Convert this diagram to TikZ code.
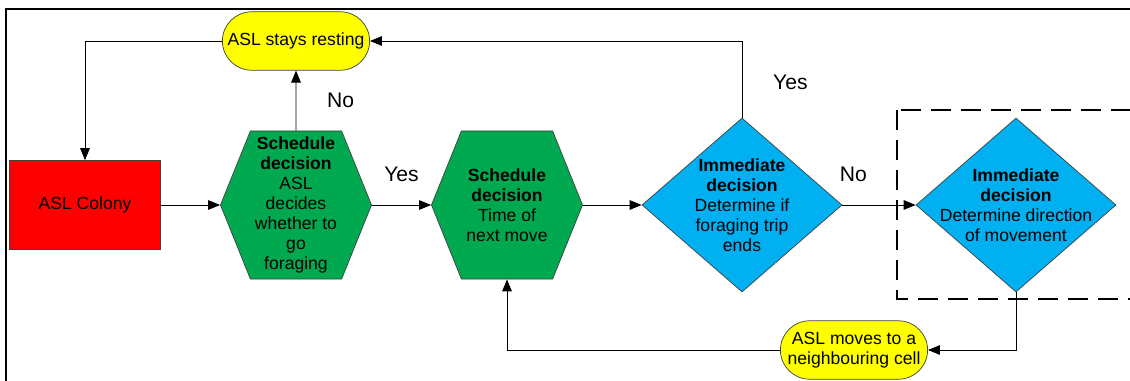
\documentclass[tikz,border=0pt]{standalone}
\usepackage{fontspec}
\setmainfont{Liberation Sans}
\usetikzlibrary{positioning,arrows.meta,shapes.geometric,shapes.misc,shapes.symbols}
\definecolor{aslred}{HTML}{FF0000}
\definecolor{aslgreen}{HTML}{00A950}
\definecolor{aslblue}{HTML}{00B0F0}
\definecolor{aslyellow}{HTML}{FFFF00}

\begin{document}
\begin{tikzpicture}[
    x = 0.025cm, y = -0.025cm,
    > = {Triangle[length=3mm, width=2.4mm]},
    line width = 0.6pt,
    every node/.style = {font=\fontsize{12.5}{14.3}\selectfont, align=center},
    colony/.style = {rectangle, draw=black!75, line width=0.5pt, fill=aslred,
        minimum width=3.775cm, minimum height=2.225cm},
    schedule/.style = {signal, signal to=east and west, signal pointer angle=136,
        draw=black!75, line width=0.5pt, fill=aslgreen, inner sep=0pt,
        minimum width=3.775cm, minimum height=3.7cm},
    immediate/.style = {diamond, draw=black!75, line width=0.5pt, fill=aslblue,
        inner sep=0pt, minimum width=5cm, minimum height=4.35cm},
    outcome/.style = {rounded rectangle, draw=black!75, line width=0.5pt,
        fill=aslyellow, inner sep=1pt, minimum width=3.75cm, minimum height=1.46cm},
    answer/.style = {font=\fontsize{15}{18}\selectfont},
    cell/.style = {line width=1pt, dash pattern=on 5mm off 2.5mm}
]
    \useasboundingbox (0,0) rectangle (1130,381);
    \draw[line width=1.2pt] (5,9) -- (1130,9);
    \draw[line width=1pt] (6,9) -- (6,381);
    \draw[cell] (897,110) rectangle (1140,299);

    \node[outcome] (rest) at (296,41) {ASL stays resting};
    \node[colony] (col) at (85,205) {ASL Colony};
    \node[schedule, label={center:{\textbf{Schedule}\\\textbf{decision}\\ASL\\decides\\whether to\\go\\foraging}}] (sd1) at (296,205) {};
    \node[schedule, label={center:{\textbf{Schedule}\\\textbf{decision}\\Time of\\next move}}] (sd2) at (507,205) {};
    \node[immediate, label={center:{\textbf{Immediate}\\\textbf{decision}\\Determine if\\foraging trip\\ends}}] (id1) at (742,205) {};
    \node[immediate, label={center:{\textbf{Immediate}\\\textbf{decision}\\Determine direction\\of movement}}] (id2) at (1016,205) {};
    \node[outcome] (move) at (854,350) {ASL moves to a\\neighbouring cell};

    \draw[->] (rest.west) -| (col.north);
    \draw[->] (col) -- (sd1);
    \draw[->] (sd1) -- node[answer, right=0.65cm] {No} (rest);
    \draw[->] (sd1) -- node[answer, above=0.45cm] {Yes} (sd2);
    \draw[->] (sd2) -- (id1);
    \draw[->] (id1.north) |- node[answer, pos=0.23, right=0.65cm] {Yes} (rest.east);
    \draw[->] (id1) -- node[answer, pos=0.15, above=0.45cm] {No} (id2);
    \draw[->] (id2.south) |- (move.east);
    \draw[->] (move.west) -| (sd2.south);
\end{tikzpicture}
\end{document}
